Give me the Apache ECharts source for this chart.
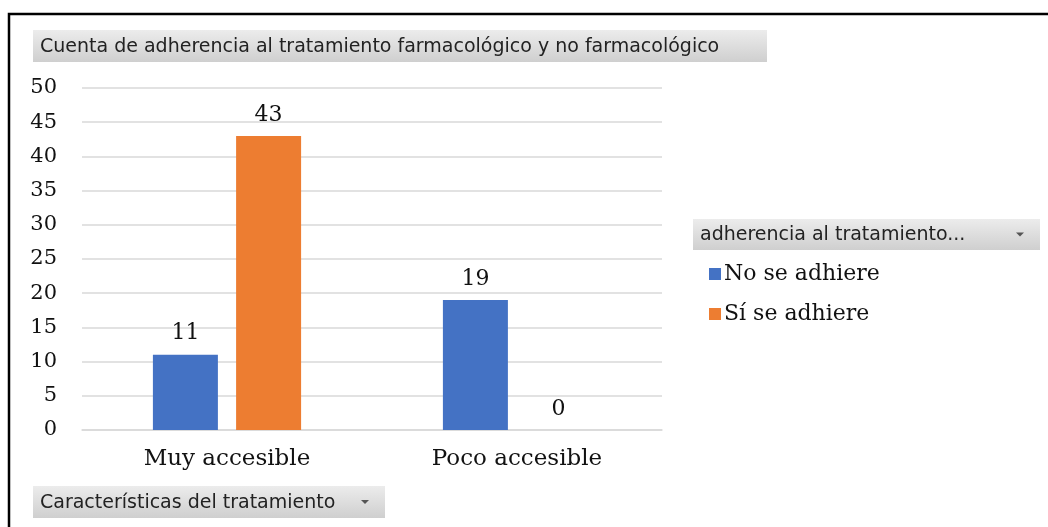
<!DOCTYPE html>
<html>
<head>
<meta charset="utf-8">
<script src="https://cdn.jsdelivr.net/npm/echarts@6/dist/echarts.min.js"></script>
<style>
  html, body { margin: 0; padding: 0; background: #fff; }
  #chart { width: 1048px; height: 527px; }
</style>
</head>
<body>
<div id="chart"></div>
<script>
// datos
const categorias = ['Muy accesible', 'Poco accesible']
const noSeAdhiere = [11, 19]
const siSeAdhiere = [43, 0]
const ticksY = [0, 5, 10, 15, 20, 25, 30, 35, 40, 45, 50]

const titulo = 'Cuenta de adherencia al tratamiento farmacológico y no farmacológico'
const tituloLeyenda = 'adherencia al tratamiento...'
const tituloEje = 'Características del tratamiento'

const chart = echarts.init(document.getElementById('chart'))

// fondo gris de los "botones" de la tabla dinámica
const grisBoton = {
  type: 'linear', x: 0, y: 0, x2: 0, y2: 1,
  colorStops: [
    {offset: 0, color: '#ececec'},
    {offset: 1, color: '#cfcfcf'}
  ]
}
const serif = '"DejaVu Serif", "Liberation Serif", serif'
const sans = '"DejaVu Sans", Verdana, sans-serif'

const boton = (x, y, w, h, texto, flecha) => {
  const hijos = [
    {type: 'rect', shape: {x: 0, y: 0, width: w, height: h}, style: {fill: grisBoton}},
    {type: 'text', x: 7, y: h / 2 + 1, style: {text: texto, font: '19px ' + sans, fill: '#222', verticalAlign: 'middle'}}
  ]
  if (flecha) {
    hijos.push({type: 'polygon', shape: {points: [[w - 24, h / 2 - 2], [w - 16, h / 2 - 2], [w - 20, h / 2 + 2]]}, style: {fill: '#555'}})
  }
  return {type: 'group', x: x, y: y, children: hijos}
}

const etiqueta = {show: true, position: 'top', distance: 10, fontFamily: serif, fontSize: 22, color: '#111'}

const option = {
  animation: false,
  color: ['#4472c4', '#ed7d31'],
  graphic: [
    // marco negro exterior
    {type: 'rect', shape: {x: 9, y: 14, width: 1060, height: 540}, style: {fill: 'none', stroke: '#000', lineWidth: 2.5}},
    boton(33, 30, 734, 32, titulo, false),
    boton(693, 219, 347, 31, tituloLeyenda, true),
    boton(33, 486, 352, 32, tituloEje, true)
  ],
  legend: {
    orient: 'vertical',
    left: 704,
    top: 258,
    icon: 'rect',
    itemWidth: 12,
    itemHeight: 12,
    itemGap: 18,
    itemStyle: {borderWidth: 0},
    textStyle: {fontFamily: serif, fontSize: 22, color: '#111', padding: [0, 0, 0, -2]},
    data: ['No se adhiere', 'Sí se adhiere']
  },
  grid: {left: 82, right: 386, top: 88, bottom: 97, containLabel: false},
  xAxis: {
    type: 'category',
    data: categorias,
    axisLine: {show: true, lineStyle: {color: '#d9d9d9', width: 1.5}},
    axisTick: {show: false},
    axisLabel: {fontFamily: serif, fontSize: 23, color: '#111', margin: 18}
  },
  yAxis: {
    type: 'value',
    min: ticksY[0],
    max: ticksY[ticksY.length - 1],
    interval: 5,
    axisLine: {show: false},
    axisTick: {show: false},
    splitLine: {lineStyle: {color: '#d9d9d9', width: 1.5}},
    axisLabel: {fontFamily: serif, fontSize: 21, color: '#111', margin: 25}
  },
  series: [
    {
      name: 'No se adhiere',
      type: 'bar',
      data: noSeAdhiere,
      barWidth: 65,
      barGap: '28%',
      label: etiqueta
    },
    {
      name: 'Sí se adhiere',
      type: 'bar',
      data: siSeAdhiere,
      barWidth: 65,
      label: etiqueta
    }
  ]
}

chart.setOption(option)
</script>
</body>
</html>
